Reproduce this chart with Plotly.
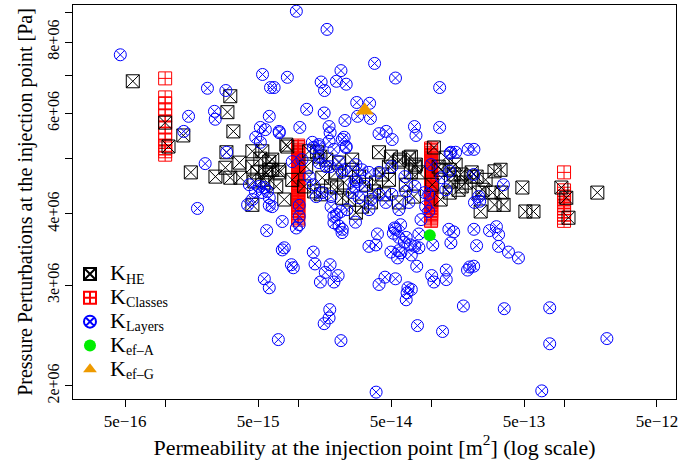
import plotly.graph_objects as go

# ---------------- data ----------------
# K_HE (black)
he_x = [5.71e-16, 1.0e-15, 1.06e-15, 1.37e-15, 1.56e-15, 2.39e-15, 2.84e-15, 3.09e-15, 2.94e-15, 3.09e-15,
        3.26e-15, 2.89e-15, 3.62e-15, 3.68e-15, 4.53e-15, 4.53e-15, 5.20e-15, 6.07e-15, 4.94e-15, 5.67e-15,
        4.69e-15, 5.87e-15, 6.39e-15, 5.38e-15, 6.39e-15, 6.07e-15, 7.22e-15, 6.85e-15, 7.87e-15, 5.38e-15,
        8.15e-15, 4.53e-15, 8.29e-15, 1.21e-14, 1.39e-14, 1.63e-14, 1.52e-14, 1.49e-14, 1.77e-14, 1.96e-14,
        2.22e-14, 2.55e-14, 2.87e-14, 3.24e-14, 3.72e-14, 3.53e-14, 3.02e-14, 2.72e-14, 2.42e-14, 4.06e-14,
        4.99e-14, 4.82e-14, 5.73e-14, 6.81e-14, 7.68e-14, 7.05e-14, 6.46e-14, 8.09e-14, 7.42e-14, 1.05e-13,
        1.29e-13, 1.18e-13, 1.41e-13, 1.53e-13, 1.02e-13, 1.38e-13, 1.18e-13, 1.15e-14, 9.04e-15, 1.11e-14,
        1.32e-14, 2.14e-14, 5.73e-14, 4.82e-14, 1.93e-14, 3.85e-14, 4.28e-14, 4.42e-14, 1.67e-13, 1.82e-13,
        1.99e-13, 2.02e-13, 2.20e-13, 2.28e-13, 2.44e-13, 2.57e-13, 3.0e-13, 2.90e-13, 3.39e-13, 3.33e-13,
        4.86e-13, 5.12e-13, 5.89e-13, 9.55e-13, 1.04e-12, 1.08e-12, 1.78e-12, 2.36e-13, 3.0e-13, 3.51e-13,
        1.61e-13, 1.48e-13, 7.22e-15, 1.47e-14, 2.03e-14, 2.55e-14, 5.83e-14, 7.05e-14, 7.55e-14, 1.14e-13,
        1.38e-13, 1.70e-13]
he_y = [6.83e6, 5.78e6, 5.25e6, 5.49e6, 4.73e6, 4.65e6, 4.82e6, 4.63e6, 6.03e6, 6.43e6,
        5.58e6, 5.13e6, 4.92e6, 4.63e6, 5.15e6, 4.84e6, 5.00e6, 4.94e6, 4.73e6, 4.73e6,
        4.56e6, 4.54e6, 4.78e6, 5.15e6, 4.98e6, 4.78e6, 4.73e6, 4.47e6, 4.24e6, 4.59e6,
        5.29e6, 4.15e6, 5.25e6, 5.15e6, 5.13e6, 4.98e6, 4.63e6, 4.33e6, 4.47e6, 4.45e6,
        4.54e6, 4.78e6, 4.65e6, 4.50e6, 4.38e6, 4.19e6, 4.12e6, 4.02e6, 4.24e6, 5.13e6,
        5.04e6, 4.84e6, 4.94e6, 5.02e6, 4.88e6, 4.73e6, 4.50e6, 4.73e6, 4.29e6, 5.23e6,
        5.02e6, 4.78e6, 4.56e6, 4.88e6, 4.50e6, 4.36e6, 4.24e6, 4.84e6, 4.59e6, 4.47e6,
        4.38e6, 4.27e6, 4.19e6, 4.59e6, 4.73e6, 4.54e6, 4.69e6, 4.33e6, 4.69e6, 4.54e6,
        4.65e6, 4.73e6, 4.65e6, 4.36e6, 4.41e6, 4.59e6, 4.75e6, 4.36e6, 4.36e6, 4.78e6,
        4.45e6, 4.04e6, 4.04e6, 4.45e6, 4.27e6, 3.94e6, 4.36e6, 4.04e6, 4.15e6, 4.15e6,
        4.41e6, 4.69e6, 4.78e6, 5.04e6, 4.92e6, 4.98e6, 4.98e6, 5.04e6, 4.84e6, 4.84e6,
        4.78e6, 4.47e6]

# K_Classes (red)
cl_y_1e15 = [6.91e6, 6.40e6, 6.25e6, 6.10e6, 5.95e6, 5.81e6, 5.67e6, 5.53e6, 5.40e6, 5.27e6, 5.21e6,
             5.15e6, 5.08e6]
cl_y_1e14 = [5.27e6, 5.24e6, 5.21e6, 5.18e6, 5.15e6, 5.11e6, 5.08e6, 5.05e6, 5.02e6, 4.99e6, 4.96e6,
             4.93e6, 4.90e6, 4.87e6, 4.84e6, 4.81e6, 4.78e6, 4.75e6, 4.73e6, 4.70e6, 4.67e6, 4.64e6,
             4.61e6, 4.58e6, 4.56e6, 4.53e6, 4.50e6, 4.47e6, 4.45e6, 4.42e6, 4.40e6, 4.37e6, 4.34e6,
             4.31e6, 4.29e6, 4.26e6, 4.24e6, 4.21e6, 4.19e6, 4.16e6, 4.14e6, 4.11e6, 4.09e6, 4.06e6,
             4.04e6, 4.01e6, 3.99e6, 3.96e6, 3.94e6, 3.91e6]
cl_y_1e13 = [5.21e6, 5.18e6, 5.15e6, 5.11e6, 5.08e6, 5.05e6, 5.02e6, 4.99e6, 4.96e6, 4.93e6, 4.90e6,
             4.87e6, 4.84e6, 4.81e6, 4.78e6, 4.75e6, 4.73e6, 4.70e6, 4.67e6, 4.64e6, 4.61e6, 4.58e6,
             4.56e6, 4.53e6, 4.50e6, 4.47e6, 4.45e6, 4.42e6, 4.40e6, 4.37e6, 4.34e6, 4.31e6, 4.29e6,
             4.26e6, 4.24e6, 4.21e6, 4.19e6, 4.16e6, 4.14e6, 4.11e6, 4.09e6, 4.06e6, 4.04e6, 4.01e6,
             3.99e6, 3.96e6, 3.94e6, 3.91e6, 3.89e6]
cl_y_1e12 = [4.73e6, 4.40e6, 4.34e6, 4.29e6, 4.24e6, 4.19e6, 4.14e6, 4.09e6, 4.04e6, 3.99e6, 3.94e6, 3.89e6]
cl_x = ([1e-15] * len(cl_y_1e15) + [1e-14] * len(cl_y_1e14)
        + [1e-13] * len(cl_y_1e13) + [1e-12] * len(cl_y_1e12))
cl_y = cl_y_1e15 + cl_y_1e14 + cl_y_1e13 + cl_y_1e12

# K_Layers (blue)
ly_x = [4.6e-16, 1.5e-15, 1.38e-15, 2.08e-15, 2.35e-15, 2.38e-15, 2.86e-15, 5.4e-15, 6.2e-15, 6.07e-15,
        5.2e-15, 4.8e-15, 5.2e-15, 2.0e-15, 2.9e-15, 1.75e-15, 4.17e-15, 6.07e-15, 5.8e-15, 5.57e-15,
        6.07e-15, 7.6e-15, 8.9e-15, 9.2e-15, 1.34e-14, 1.74e-14, 1.6e-14, 1.47e-14, 1.86e-14, 2.0e-14,
        1.02e-14, 2.15e-14, 1.86e-14, 1.95e-14, 2.7e-14, 3.41e-14, 3.95e-14, 4.5e-14, 4.06e-14, 5.4e-14,
        1.73e-14, 1.71e-14, 1.57e-14, 7.1e-15, 2.1e-14, 3.86e-14, 7.9e-14, 1.22e-13, 1.75e-13, 5.3e-14,
        5.2e-14, 5.73e-14, 5.6e-14, 6.5e-14, 7.0e-14, 7.1e-14, 8.1e-14, 7.8e-14, 6.3e-14, 5.9e-14,
        6.7e-14, 6.6e-14, 6.5e-14, 7.1e-14, 1.01e-13, 1.05e-13, 1.3e-13, 1.3e-13, 1.88e-13, 1.95e-13,
        1.48e-13, 1.03e-13, 2.1e-13, 2.75e-13, 3.1e-13, 3.22e-13, 2.2e-13, 3.22e-13, 3.82e-13, 4.54e-13,
        2.09e-13, 3.55e-13, 7.8e-13, 7.8e-13, 2.1e-12, 6.8e-13, 2.1e-13, 3.5e-13, 9.7e-15, 1.65e-14,
        3.76e-14, 8.3e-15, 6.6e-15, 2.1e-14, 1.49e-14, 1.58e-14, 1.94e-14, 2.3e-14, 5.4e-14, 1.16e-13,
        2.76e-14, 3.45e-14, 3.5e-14, 2.8e-14, 1.16e-14, 1.57e-14, 2.25e-14, 1.03e-14, 7.2e-15, 1.71e-14,
        1.74e-14, 4.06e-14, 4.6e-14, 5.1e-14, 7.5e-14, 7.7e-14, 1.16e-13, 1.9e-13, 1.39e-13, 1.28e-14,
        1.44e-14, 1.71e-14, 2.15e-14, 2.3e-14,
        5.67e-15, 7.22e-15, 2.22e-14, 1.44e-14, 1.30e-14, 1.86e-14, 2.29e-14, 9.04e-15, 1.07e-14, 1.44e-14,
        1.63e-14, 2.03e-14, 2.22e-14, 2.72e-14, 3.02e-14, 3.41e-14, 1.41e-13, 1.0e-13, 1.20e-13, 1.38e-13,
        1.29e-13, 9.61e-14, 9.1e-14, 9.61e-14, 8.4e-14, 6.46e-14, 6.81e-14, 5.73e-14, 5.07e-14, 4.57e-14,
        4.06e-14, 3.53e-14, 3.41e-14, 2.87e-14, 2.63e-14, 2.77e-14, 2.55e-14, 2.33e-14, 2.10e-14, 1.86e-14,
        2.03e-14, 2.14e-14, 1.77e-14, 1.77e-14, 1.52e-14, 1.37e-14, 1.30e-14, 1.21e-14, 1.02e-14, 1.02e-14,
        9.7e-15, 7.6e-15, 6.39e-15, 6.07e-15, 5.57e-15, 7.87e-15, 1.30e-14, 3.85e-14, 5.4e-14, 5.73e-14,
        4.99e-14, 5.93e-14, 7.55e-14, 8.09e-14, 1.36e-13, 1.41e-13, 1.53e-13, 2.12e-13, 2.32e-13, 2.28e-13,
        2.09e-13, 4.30e-15, 4.77e-15, 5.38e-15, 5.87e-15, 5.11e-15, 4.53e-15, 4.06e-14, 5.07e-14, 6.35e-14,
        7.55e-14, 8.95e-14, 1.44e-14, 1.74e-14, 2.14e-14, 2.68e-14, 3.18e-14]
ly_y = [7.6e6, 5.93e6, 5.58e6, 6.64e6, 6.05e6, 5.86e6, 6.58e6, 7.02e6, 6.66e6, 5.93e6,
        5.67e6, 5.45e6, 5.34e6, 4.90e6, 5.13e6, 4.09e6, 4.15e6, 4.14e6, 3.74e6, 3.08e6,
        2.97e6, 3.46e6, 3.26e6, 3.22e6, 3.27e6, 3.26e6, 3.16e6, 3.04e6, 3.04e6, 3.12e6,
        3.83e6, 3.76e6, 3.86e6, 3.99e6, 3.87e6, 3.51e6, 3.69e6, 3.10e6, 3.01e6, 3.08e6,
        2.72e6, 2.63e6, 2.57e6, 2.41e6, 2.40e6, 1.95e6, 2.55e6, 2.49e6, 2.76e6, 3.78e6,
        3.70e6, 3.45e6, 3.35e6, 3.64e6, 3.53e6, 3.39e6, 3.49e6, 3.24e6, 3.57e6, 3.83e6,
        2.97e6, 2.91e6, 2.83e6, 2.95e6, 3.12e6, 3.04e6, 3.19e6, 3.07e6, 3.19e6, 3.23e6,
        3.72e6, 3.53e6, 3.76e6, 3.74e6, 3.80e6, 3.68e6, 3.52e6, 3.51e6, 3.43e6, 3.35e6,
        3.24e6, 2.73e6, 2.74e6, 2.37e6, 2.42e6, 1.96e6, 5.19e6, 4.50e6, 9.06e6, 8.42e6,
        7.34e6, 6.94e6, 6.66e6, 7.13e6, 6.81e6, 6.58e6, 6.83e6, 6.75e6, 6.92e6, 6.66e6,
        6.27e6, 6.25e6, 5.88e6, 5.93e6, 6.10e6, 6.01e6, 5.83e6, 5.67e6, 5.58e6, 5.69e6,
        5.55e6, 5.53e6, 5.58e6, 5.40e6, 5.69e6, 5.49e6, 5.67e6, 5.19e6, 5.11e6, 5.34e6,
        5.25e6, 5.36e6, 5.40e6, 5.25e6,
        5.62e6, 5.55e6, 5.45e6, 5.29e6, 5.23e6, 5.19e6, 5.23e6, 4.94e6, 4.98e6, 4.92e6,
        4.84e6, 4.94e6, 4.78e6, 4.88e6, 4.78e6, 4.73e6, 5.13e6, 4.88e6, 4.63e6, 4.75e6,
        4.41e6, 4.33e6, 4.12e6, 4.04e6, 3.91e6, 4.38e6, 4.19e6, 4.07e6, 4.33e6, 4.19e6,
        4.33e6, 4.24e6, 4.07e6, 4.27e6, 4.47e6, 4.56e6, 4.36e6, 4.07e6, 4.04e6, 3.96e6,
        3.81e6, 3.71e6, 4.12e6, 4.29e6, 4.36e6, 4.29e6, 4.50e6, 4.65e6, 4.14e6, 3.96e6,
        3.78e6, 3.88e6, 4.12e6, 4.27e6, 4.45e6, 3.49e6, 3.43e6, 3.53e6, 3.76e6, 3.64e6,
        3.43e6, 3.42e6, 3.51e6, 3.69e6, 3.76e6, 3.56e6, 5.13e6, 4.19e6, 4.21e6, 4.29e6,
        4.69e6, 4.50e6, 4.38e6, 4.36e6, 4.38e6, 4.47e6, 4.24e6, 4.73e6, 4.84e6, 4.65e6,
        4.47e6, 4.36e6, 5.04e6, 4.84e6, 4.73e6, 4.59e6, 4.47e6]

# K_ef-A (green) and K_ef-G (orange)
efa_x = [9.78e-14]
efa_y = [3.67e6]
efg_x = [3.17e-14]
efg_y = [6.07e6]

x_tickvals = [5e-16, 1e-15, 5e-15, 1e-14, 5e-14, 1e-13, 5e-13, 1e-12, 5e-12]
x_ticktext = ["5e\u221216", "", "5e\u221215", "", "5e\u221214", "", "5e\u221213", "", "5e\u221212"]
y_tickvals = [2e6, 3e6, 4e6, 5e6, 6e6, 7e6, 8e6, 9e6]
y_ticktext = ["2e+06", "3e+06", "4e+06", "", "6e+06", "", "8e+06", ""]

FONT = "Liberation Serif, Times New Roman, serif"


def leg(sub):
    return ('<span style="font-size:22px">K</span><sub><span style="font-size:14px">%s</span></sub>'
            % sub)


fig = go.Figure()
fig.add_trace(go.Scatter(x=cl_x, y=cl_y, mode="markers", name=leg("Classes"), legendrank=2,
                         marker=dict(symbol="square-cross-open", size=13, color="#FF0000", line=dict(width=1))))
fig.add_trace(go.Scatter(x=he_x, y=he_y, mode="markers", name=leg("HE"), legendrank=1,
                         marker=dict(symbol="square-x-open", size=13, color="black", line=dict(width=1))))
fig.add_trace(go.Scatter(x=ly_x, y=ly_y, mode="markers", name=leg("Layers"), legendrank=3,
                         marker=dict(symbol="circle-x-open", size=12, color="#0000FF", line=dict(width=1))))
fig.add_trace(go.Scatter(x=efa_x, y=efa_y, mode="markers", name=leg("ef\u2013A"), legendrank=4,
                         marker=dict(symbol="circle", size=12, color="#00EE00")))
fig.add_trace(go.Scatter(x=efg_x, y=efg_y, mode="markers", name=leg("ef\u2013G"), legendrank=5,
                         marker=dict(symbol="triangle-up", size=16, color="#EE9A00")))

fig.update_layout(
    width=680, height=463,
    margin=dict(l=73, r=2, t=5, b=64),
    paper_bgcolor="white", plot_bgcolor="white",
    font=dict(family=FONT, color="black", size=16),
    showlegend=True,
    legend=dict(x=-0.005, y=0.36, xanchor="left", yanchor="top", bgcolor="rgba(0,0,0,0)",
                font=dict(family=FONT, size=16, color="black"), tracegroupgap=0,
                itemsizing="constant"),
    xaxis=dict(type="log", range=[-15.693, -11.158], showgrid=False, zeroline=False,
               showline=True, mirror=True, linecolor="black", linewidth=1,
               ticks="outside", ticklen=7, tickcolor="black",
               tickmode="array", tickvals=x_tickvals, ticktext=x_ticktext,
               ticklabeloverflow="allow",
               tickfont=dict(family=FONT, size=17),
               title=dict(text="Permeability at the injection point [m<sup>2</sup>] (log scale)",
                          font=dict(family=FONT, size=22), standoff=8)),
    yaxis=dict(type="log", range=[6.278, 6.968], showgrid=False, zeroline=False,
               showline=True, mirror=True, linecolor="black", linewidth=1,
               ticks="outside", ticklen=7, tickcolor="black",
               tickmode="array", tickvals=y_tickvals, ticktext=y_ticktext, tickangle=-90,
               ticklabeloverflow="allow",
               tickfont=dict(family=FONT, size=16),
               title=dict(text="Pressure Perturbations at the injection point [Pa]",
                          font=dict(family=FONT, size=20), standoff=6)),
)

fig.write_html("out.html")
